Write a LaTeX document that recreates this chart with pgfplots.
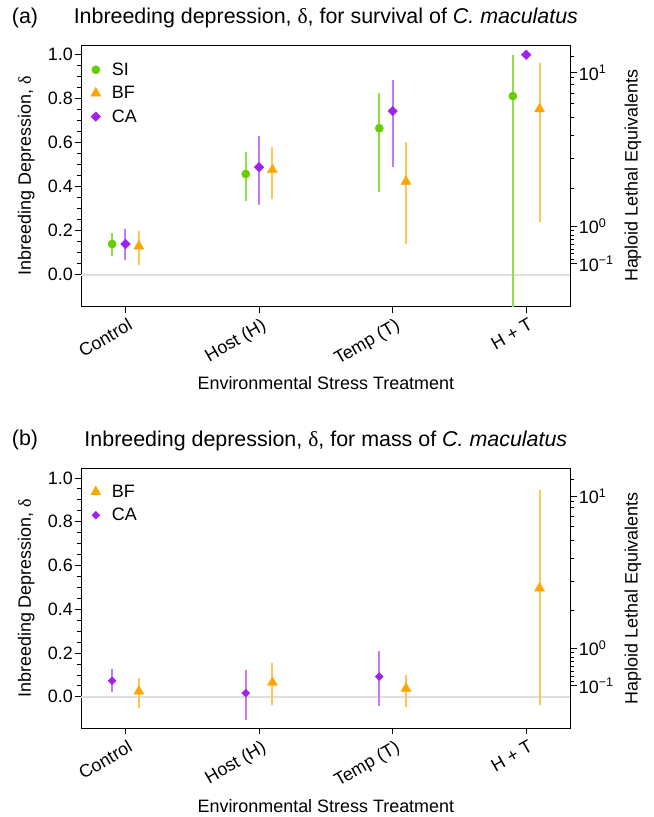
\documentclass[border=0pt]{standalone}
\usepackage{pgfplots}
\pgfplotsset{compat=1.18}
\usepackage{pgfplotstable}
\usepackage{fontspec}
\setmainfont{Liberation Sans}
\newfontfamily\grk{Liberation Serif}

\definecolor{siG}{RGB}{102,205,0}
\definecolor{bfO}{RGB}{255,165,0}
\definecolor{caP}{RGB}{160,32,240}

% survival (a): x, estimate, lower, upper
\pgfplotstableread{
x   d     lo     hi
0.9 0.140 0.085  0.190
1.9 0.458 0.337  0.560
2.9 0.666 0.374  0.825
3.9 0.812 -0.500 1.000
}\survSI
\pgfplotstableread{
x   d     lo     hi
1.0 0.140 0.066  0.206
2.0 0.489 0.316  0.632
3.0 0.744 0.492  0.885
4.0 1.000 1.000  1.000
}\survCA
\pgfplotstableread{
x   d     lo     hi
1.1 0.130 0.043  0.199
2.1 0.477 0.345  0.582
3.1 0.424 0.142  0.602
4.1 0.753 0.242  0.964
}\survBF
% mass (b)
\pgfplotstableread{
x   d     lo     hi
0.9 0.073 0.020  0.126
1.9 0.017 -0.105 0.124
2.9 0.092 -0.041 0.207
}\massCA
\pgfplotstableread{
x   d     lo     hi
1.1 0.025 -0.053 0.085
2.1 0.065 -0.036 0.156
3.1 0.038 -0.045 0.100
4.1 0.496 -0.036 0.943
}\massBF

\newcommand{\fs}{\fontsize{18}{21}\selectfont}

\pgfplotsset{
  panel/.style={
    scale only axis, width=489.7bp,
    xmin=0.667, xmax=4.333, ymin=-0.144, ymax=1.044,
    axis line style={line width=0.8bp},
    tick style={black, line width=0.8bp},
    tick align=outside, major tick length=6bp, minor tick length=3.5bp,
    xtick={1,2,3,4}, xticklabels={Control, Host (H), Temp (T), H + T},
    xtick pos=bottom, ytick pos=left,
    ytick={0,0.2,0.4,0.6,0.8,1.0}, minor y tick num=3,
    /pgf/number format/assume math mode=true,
    yticklabel style={/pgf/number format/.cd, fixed, fixed zerofill, precision=1, /tikz/.cd, font=\fs, inner sep=2bp},
    xticklabel style={rotate=30, anchor=north east, font=\fs, inner sep=1bp, yshift=-4bp},
    label style={font=\fs},
    title style={font=\fontsize{21.5}{24}\selectfont, anchor=center},
    xlabel={Environmental Stress Treatment},
    ylabel={Inbreeding Depression, {\grk δ}},
    ylabel style={at={(axis description cs:-0.112,0.5)}, anchor=center},
    legend style={draw=none, fill=none, font=\fs, anchor=north west, row sep=5.5bp,
      /tikz/every odd column/.append style={column sep=9bp}},
    legend cell align=left,
  },
  rightax/.style={
    scale only axis, width=489.7bp,
    xmin=0.667, xmax=4.333, ymin=-0.144, ymax=1.044,
    axis x line=none, axis y line*=right,
    axis line style={line width=0.8bp},
    tick style={black, line width=0.8bp},
    tick align=outside, major tick length=6bp, minor tick length=3.5bp,
    ytick={0.050,0.22120,0.91792},
    yticklabels={10\textsuperscript{−1},10\textsuperscript{0},10\textsuperscript{1}},
    minor ytick={0.07226,0.09516,0.11750,0.13929,0.16054,0.18127,0.20148,
                 0.39347,0.52763,0.63212,0.71350,0.77687,0.82623,0.86466,0.89460,0.99326},
    yticklabel style={font=\fs, inner sep=2bp},
    ylabel={Haploid Lethal Equivalents},
    ylabel style={font=\fs, at={(axis description cs:1.127,0.5)}, anchor=center},
  },
  ebars/.style={error bars/.cd, y dir=both, y explicit, error mark=none,
    error bar style={line width=2bp, #1}},
}

\begin{document}
\begin{tikzpicture}
\useasboundingbox (0,0) rectangle (654bp,-817bp);

% ---------- (a) survival ----------
\begin{axis}[panel, height=261.5bp, at={(81bp,-306.5bp)}, anchor=south west,
  title={Inbreeding depression, {\grk δ}, for survival of \textit{C. maculatus}},
  title style={at={(axis description cs:0.5,1.082)}},
  xlabel style={at={(axis description cs:0.5,-0.292)}, anchor=center},
  legend style={at={(axis description cs:0.0135,0.948)}}]
\addplot[forget plot, gray!25, line width=1.5bp] coordinates {(0.667,0) (4.333,0)};
\addplot[only marks, mark=*, mark size=4.1bp, siG, ebars={siG!70}]
  table[x=x, y=d, y error plus expr=\thisrow{hi}-\thisrow{d}, y error minus expr=\thisrow{d}-\thisrow{lo}] {\survSI};
\addplot[only marks, mark=triangle*, mark size=5.8bp, bfO, ebars={bfO!65}]
  table[x=x, y=d, y error plus expr=\thisrow{hi}-\thisrow{d}, y error minus expr=\thisrow{d}-\thisrow{lo}] {\survBF};
\addplot[only marks, mark=square*, mark size=3.4bp, mark options={rotate=45}, caP, ebars={caP!60}]
  table[x=x, y=d, y error plus expr=\thisrow{hi}-\thisrow{d}, y error minus expr=\thisrow{d}-\thisrow{lo}] {\survCA};
\legend{SI, BF, CA}
\end{axis}
\begin{axis}[rightax, height=261.5bp, at={(81bp,-306.5bp)}, anchor=south west]
\end{axis}
\node[font=\fontsize{21.5}{24}\selectfont] at (25bp,-18bp) {(a)};

% ---------- (b) mass ----------
\begin{axis}[panel, height=260bp, at={(81bp,-728.3bp)}, anchor=south west,
  title={Inbreeding depression, {\grk δ}, for mass of \textit{C. maculatus}},
  title style={at={(axis description cs:0.5,1.082)}},
  xlabel style={at={(axis description cs:0.5,-0.299)}, anchor=center},
  legend style={at={(axis description cs:0.0135,0.952)}}]
\addplot[forget plot, gray!25, line width=1.5bp] coordinates {(0.667,0) (4.333,0)};
\addplot[only marks, mark=triangle*, mark size=5.8bp, bfO, ebars={bfO!65}]
  table[x=x, y=d, y error plus expr=\thisrow{hi}-\thisrow{d}, y error minus expr=\thisrow{d}-\thisrow{lo}] {\massBF};
\addplot[only marks, mark=square*, mark size=2.8bp, mark options={rotate=45}, caP, ebars={caP!60}]
  table[x=x, y=d, y error plus expr=\thisrow{hi}-\thisrow{d}, y error minus expr=\thisrow{d}-\thisrow{lo}] {\massCA};
\legend{BF, CA}
\end{axis}
\begin{axis}[rightax, height=260bp, at={(81bp,-728.3bp)}, anchor=south west]
\end{axis}
\node[font=\fontsize{21.5}{24}\selectfont] at (25bp,-440bp) {(b)};
\end{tikzpicture}
\end{document}
